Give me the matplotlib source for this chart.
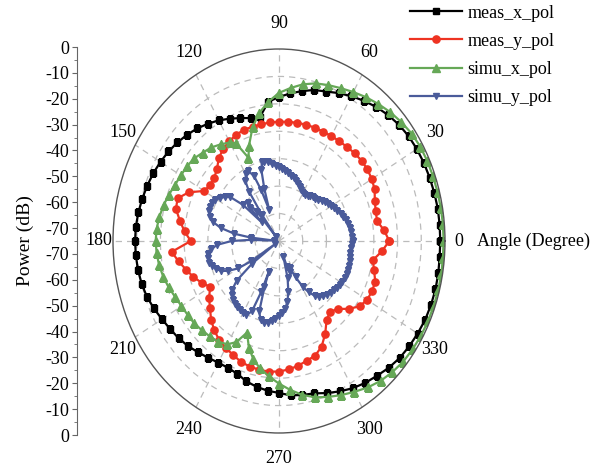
import numpy as np
import matplotlib
matplotlib.use('Agg')
import matplotlib.pyplot as plt

plt.rcParams['font.family'] = ['Liberation Serif', 'DejaVu Serif']

# ---------------- data ----------------
meas_angles = list(range(0, 360, 5))
meas_x_pol = [-2.0, -2.0, -2.0, -2.2, -2.4, -2.6, -2.9, -3.3, -4.0, -5.0,
              -6.2, -7.6, -9.0, -10.5, -12.0, -13.0, -14.5, -16.0, -17.5, -19.0,
              -24.0, -23.6, -22.3, -20.8, -19.2, -17.8, -16.4, -15.2, -14.1, -13.1,
              -12.3, -11.5, -10.9, -10.3, -9.8, -9.4, -9.3, -9.4, -9.6, -10.0,
              -10.7, -11.8, -13.0, -14.0, -14.8, -15.8, -17.0, -18.0, -18.8, -19.0,
              -18.5, -17.0, -16.0, -15.2, -14.6, -13.5, -13.0, -12.5, -11.0, -9.5,
              -8.0, -6.8, -5.8, -4.6, -3.6, -3.0, -2.5, -2.0, -1.8, -1.7,
              -1.8, -2.0]
meas_y_pol = [-23.5, -25.5, -28.0, -27.8, -27.0, -25.5, -24.8, -24.5, -24.5, -24.8,
              -25.3, -25.6, -25.8, -26.0, -26.0, -26.1, -26.2, -26.4, -26.5, -26.6,
              -26.8, -26.9, -26.8, -27.3, -28.0, -29.0, -30.5, -33.0, -34.3, -34.5,
              -33.5, -28.0, -24.5, -25.0, -27.6, -30.0, -32.8, -24.6, -27.0, -29.5,
              -31.6, -34.0, -36.5, -34.0, -32.0, -29.5, -27.5, -26.0, -25.0, -24.2,
              -23.1, -22.6, -22.3, -22.2, -22.4, -23.0, -23.8, -24.8, -25.5, -27.5,
              -31.0, -35.0, -36.3, -35.0, -31.5, -28.5, -27.1, -26.7, -26.8, -28.5,
              -29.8, -26.5]

simu_x_angles = [0, 5, 10, 15, 20, 25, 30, 35, 40, 45, 50, 55, 60, 65, 70, 75, 80, 85,
                 90, 95, 100, 105, 110, 113, 117, 120, 125, 130, 135, 140, 145, 150,
                 155, 160, 165, 170, 175, 180, 185, 190, 195, 200, 205, 210, 215, 220,
                 225, 230, 235, 240, 244, 248, 252, 256, 260, 265, 270, 275, 280, 285,
                 290, 295, 300, 305, 310, 315, 320, 325, 330, 335, 340, 345, 350, 355]
simu_x_pol = [-0.6, -0.6, -0.7, -0.8, -0.9, -1.0, -1.2, -1.7, -2.6, -3.6, -4.8, -6.0,
              -7.3, -8.5, -9.5, -10.5, -12.0, -14.0,
              -16.0, -19.0, -22.5, -27.0, -33.0, -37.0, -30.0, -28.5, -27.0, -25.5,
              -24.5, -23.2, -22.6, -22.2,
              -21.6, -20.6, -19.6, -18.8, -18.2, -18.0, -18.2, -18.7, -19.5, -20.5,
              -21.7, -22.5, -23.0, -23.3,
              -24.0, -24.6, -25.2, -26.5, -29.0, -34.0, -29.0, -25.5, -23.0, -20.5,
              -18.0, -15.5, -13.0, -11.0,
              -9.5, -8.0, -6.5, -4.8, -3.4, -2.4, -1.6, -1.2, -0.9, -0.7, -0.6, -0.5,
              -0.5, -0.6]

simu_y_angles = [0, 3, 6, 9, 12, 15, 18, 21, 24, 27,
                 30, 33, 36, 39, 42, 45, 48, 51, 54, 57,
                 60, 63, 66, 69, 72, 75, 78, 81, 84, 87,
                 90, 93, 96, 99, 102, 104, 106, 108, 110, 112,
                 114, 117, 120, 123, 125, 127, 129, 131, 133, 135,
                 137, 139, 142, 145, 148, 151, 154, 157, 160, 163,
                 166, 169, 172, 174, 176, 178, 180, 183, 186, 189,
                 192, 195, 198, 201, 204, 207, 210, 212, 214, 216,
                 219, 222, 225, 228, 231, 234, 237, 240, 243, 246,
                 248, 249, 250, 252, 255, 258, 261, 264, 267, 270,
                 273, 276, 279, 282, 285, 288, 290, 292, 295, 298,
                 301, 304, 307, 310, 313, 316, 319, 322, 325, 328,
                 331, 334, 337, 340, 343, 346, 349, 352, 355, 358]
simu_y_pol = [-39.0, -39.2, -39.5, -39.8, -40.3, -40.8, -41.5, -42.2, -43.0, -43.8,
              -44.5, -45.2, -46.0, -46.8, -47.8, -48.3, -48.6, -49.0, -49.5, -49.8,
              -50.0, -49.3, -48.5, -47.6, -47.0, -46.3, -45.6, -45.0, -44.4, -43.8,
              -43.2, -42.5, -41.8, -41.0, -40.4, -40.2, -43.0, -50.0, -58.0, -50.0,
              -44.0, -41.3, -42.0, -44.0, -48.0, -58.0, -68.0, -56.0, -51.0, -53.0,
              -60.0, -50.0, -44.0, -42.0, -40.5, -39.2, -38.5, -38.2, -38.4, -39.5,
              -41.3, -45.0, -51.0, -58.0, -68.0, -58.0, -50.0, -44.0, -41.0, -39.8,
              -39.4, -39.6, -40.4, -41.6, -43.2, -46.0, -50.0, -56.0, -68.0, -56.0,
              -47.0, -43.5, -42.0, -41.2, -40.6, -40.2, -39.8, -39.5, -39.6, -42.0,
              -50.0, -58.0, -52.0, -43.0, -40.0, -39.4, -39.8, -40.6, -41.6, -42.8,
              -43.8, -45.2, -47.5, -51.0, -56.0, -64.0, -60.0, -58.0, -59.0, -55.0,
              -50.4, -47.5, -45.0, -43.5, -42.5, -41.8, -41.2, -40.8, -40.3, -39.9,
              -39.5, -39.2, -39.0, -39.0, -39.1, -39.3, -39.5, -39.6, -39.4, -39.2]

series_names = ['meas_x_pol', 'meas_y_pol', 'simu_x_pol', 'simu_y_pol']
theta_ticks = list(range(0, 360, 30))
theta_labels = ['0', '30', '60', '90', '120', '150', '180', '210', '240', '270', '300', '330']
r_grid = [-60, -50, -40, -30, -20, -10]
left_tick_labels = ['0', '-10', '-20', '-30', '-40', '-50', '-60', '-70',
                    '-70', '-60', '-50', '-40', '-30', '-20', '-10', '0']  # bottom -> top

# ---------------- figure ----------------
W, H = 602, 466
fig = plt.figure(figsize=(W / 100, H / 100), dpi=100)

cx, cy, rx, ry = 279, 241, 166, 192
ax = fig.add_axes([(cx - rx) / W, (H - cy - ry) / H, 2 * rx / W, 2 * ry / H],
                  projection='polar')
ax.set_aspect('auto')


def closed(a, v):
    a = list(a) + [a[0]]
    v = list(v) + [v[0]]
    return np.deg2rad(a), np.array(v)


styles = [
    dict(color='#000000', marker='s', ms=4.2),
    dict(color='#ee3322', marker='o', ms=5.2),
    dict(color='#66a857', marker='^', ms=5.2),
    dict(color='#4a5b9a', marker='v', ms=5.0),
]
data = [(meas_angles, meas_x_pol), (meas_angles, meas_y_pol),
        (simu_x_angles, simu_x_pol), (simu_y_angles, simu_y_pol)]
handles = []
for (a, v), st, name in zip(data, styles, series_names):
    t, r = closed(a, v)
    ln, = ax.plot(t, r, color=st['color'], lw=1.6, marker=st['marker'],
                  ms=st['ms'], mec=st['color'], mfc=st['color'], label=name)
    handles.append(ln)

ax.set_ylim(-70, 0)
ax.set_rticks(r_grid)
ax.set_yticklabels([])
ax.set_thetagrids(theta_ticks, labels=[''] * len(theta_ticks))
ax.tick_params(axis='x', direction='in', length=7, color='#666666')
ax.grid(True, color='#bbbbbb', linestyle=(0, (5, 4)), linewidth=0.9)
ax.spines['polar'].set_color('#555555')
ax.spines['polar'].set_linewidth(1.0)

# angle labels placed just outside the (elliptical) outer ring
for deg, lab in zip(theta_ticks, theta_labels):
    th = np.deg2rad(deg)
    ax.text(0.5 + 0.5 * 1.085 * np.cos(th), 0.5 + 0.5 * 1.135 * np.sin(th), lab,
            transform=ax.transAxes, ha='center', va='center', fontsize=13)

# left power axis
lax = fig.add_axes([77 / W, (H - 435) / H, 0.001, (435 - 47) / H])
lax.set_ylim(0, len(left_tick_labels) - 1)
lax.set_yticks(range(len(left_tick_labels)))
lax.set_yticklabels(left_tick_labels)
lax.set_yticks(np.arange(0.5, len(left_tick_labels) - 1, 1.0), minor=True)
lax.set_xticks([])
for s in ['top', 'right', 'bottom']:
    lax.spines[s].set_visible(False)
lax.spines['left'].set_color('#666666')
lax.tick_params(axis='y', which='major', length=3.5, pad=2, labelsize=13,
                color='#666666')
lax.tick_params(axis='y', which='minor', length=2, color='#666666')
lax.patch.set_visible(False)

fig.text(25 / W, (H - 241) / H, 'Power (dB)', rotation=90, ha='center',
         va='center', fontsize=14)
fig.text(477 / W, (H - 241) / H, 'Angle (Degree)', ha='left', va='center',
         fontsize=13)

fig.legend(handles=handles, loc='upper left', bbox_to_anchor=(406 / W, 1 - 1 / H),
           frameon=False, fontsize=13, handlelength=2.9, handletextpad=0.3,
           labelspacing=0.62, borderpad=0.2, borderaxespad=0)

fig.savefig('out.png', dpi=100)
